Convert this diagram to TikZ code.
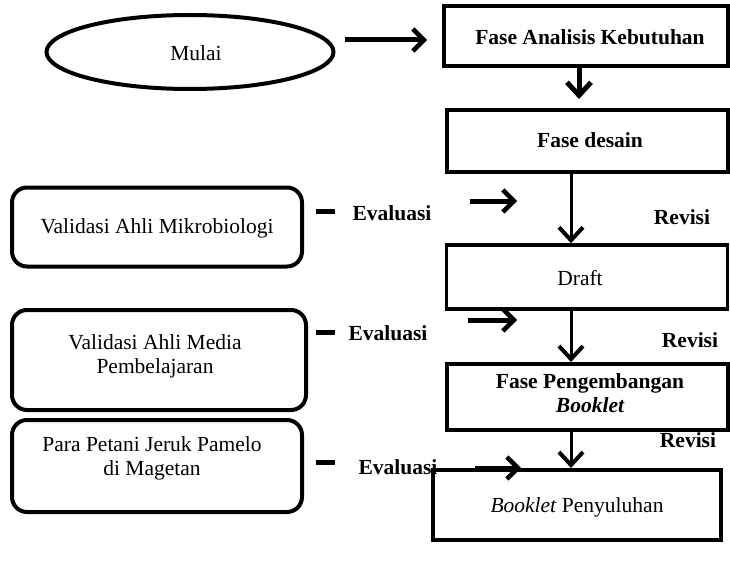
\documentclass[tikz,border=0pt]{standalone}
\usepackage{fontspec}
\setmainfont{Liberation Serif}
\usetikzlibrary{shapes.geometric,arrows.meta}
\begin{document}
\begin{tikzpicture}[x=1pt,y=-1pt,
  every node/.style={font=\fontsize{21.5}{24}\selectfont, align=center, inner sep=0pt},
  box/.style={draw, line width=4pt, rectangle},
  rbox/.style={draw, line width=4pt, rectangle, rounded corners=15pt},
  harr/.style={line width=5pt, -{Straight Barb[length=11pt,width=22pt,line width=4.5pt]}},
  varr/.style={line width=3pt, -{Straight Barb[length=13pt,width=24pt,line width=4pt]}},
  varrthick/.style={line width=5pt, -{Straight Barb[length=13pt,width=24pt,line width=5pt]}},
  lbl/.style={font=\fontsize{21.5}{24}\selectfont\bfseries},
  dashmark/.style={line width=5pt}]
\useasboundingbox (0,0) rectangle (730,567);
% nodes
\node[ellipse, draw, line width=4pt, minimum width=287pt, minimum height=74pt] (mulai) at (190,52) {};
\node (tmulai) at (196,53) {Mulai};
\node[box, minimum width=284pt, minimum height=60pt] (b1) at (586,36) {};
\node (t1) at (590,37) {\bfseries Fase Analisis Kebutuhan};
\node[box, minimum width=281pt, minimum height=62pt] (b2) at (587,141) {};
\node (t2) at (590,140) {\bfseries Fase desain};
\node[box, line width=3.5pt, minimum width=281pt, minimum height=64pt] (draft) at (587,277) {};
\node (t3) at (580,278) {Draft};
\node[box, minimum width=281pt, minimum height=66pt] (b4) at (587,397) {};
\node (t4) at (590,393) {\bfseries Fase Pengembangan\\ \bfseries\itshape Booklet};
\node[box, minimum width=288pt, minimum height=70pt] (b5) at (577,505) {};
\node (t5) at (577,507) {\textit{Booklet} Penyuluhan};
\node[rbox, minimum width=290pt, minimum height=79pt] (v1) at (157,227) {};
\node (tv1) at (157,228) {Validasi Ahli Mikrobiologi};
\node[rbox, minimum width=294pt, minimum height=100pt] (v2) at (159,360) {};
\node (tv2) at (155,356) {Validasi Ahli Media\\Pembelajaran};
\node[rbox, minimum width=290pt, minimum height=92pt] (v3) at (157,466) {};
\node (tv3) at (152,458) {Para Petani Jeruk Pamelo\\di Magetan};
% labels
\node[lbl] (e1) at (392,213) {Evaluasi};
\node[lbl] (e2) at (388,333) {Evaluasi};
\node[lbl] (e3) at (398,467) {Evaluasi};
\node[lbl] (r1) at (682,217) {Revisi};
\node[lbl] (r2) at (690,340) {Revisi};
\node[lbl] (r3) at (688,440) {Revisi};
% coordinates
\coordinate (a0s) at (345,40); \coordinate (a0e) at (427,40);
\coordinate (a1s) at (470,201); \coordinate (a1e) at (517,201);
\coordinate (a2s) at (468,320); \coordinate (a2e) at (517,320);
\coordinate (a3s) at (475,468); \coordinate (a3e) at (521,468);
\coordinate (d1s) at (316,211); \coordinate (d1e) at (335,211);
\coordinate (d2s) at (316,332); \coordinate (d2e) at (335,332);
\coordinate (d3s) at (316,462); \coordinate (d3e) at (335,462);
% connectors
\draw[harr] (a0s) -- (a0e);
\draw[harr] (a1s) -- (a1e);
\draw[harr] (a2s) -- (a2e);
\draw[harr] (a3s) -- (a3e);
\draw[dashmark] (d1s) -- (d1e);
\draw[dashmark] (d2s) -- (d2e);
\draw[dashmark] (d3s) -- (d3e);
\draw[varrthick] (b1.south -| 579,0) -- ([yshift=9pt]b2.north -| 579,0);
\draw[varr] (b2.south -| 571,0) -- (draft.north -| 571,0);
\draw[varr] (draft.south -| 571,0) -- (b4.north -| 571,0);
\draw[varr] (b4.south -| 571,0) -- (b5.north -| 571,0);
\end{tikzpicture}
\end{document}
